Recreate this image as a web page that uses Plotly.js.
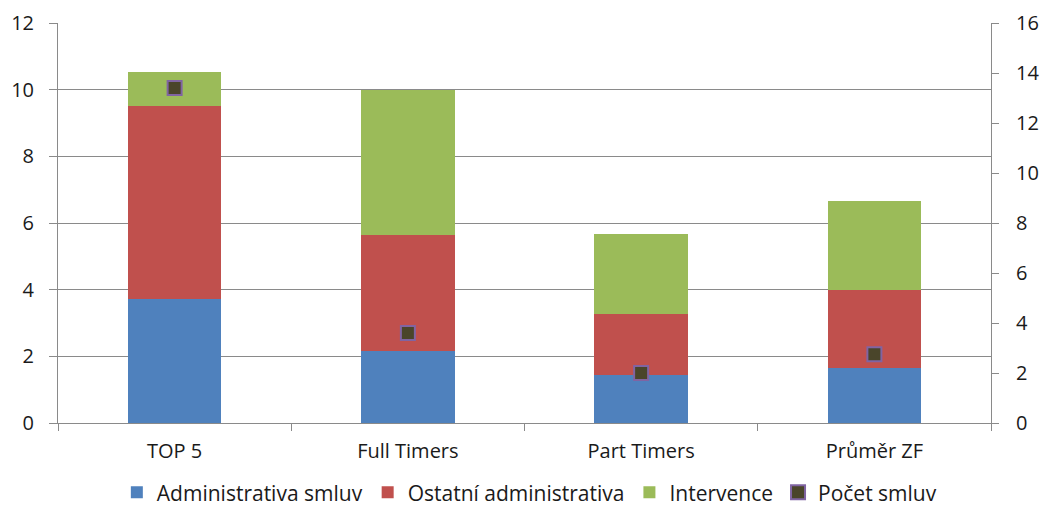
<!DOCTYPE html>
<html>
<head>
<meta charset="utf-8">
<script src="https://cdn.plot.ly/plotly-3.0.1.min.js"></script>
<style>
  html, body { margin: 0; padding: 0; background: #fff; }
  #chart { width: 1042px; height: 509px; }
</style>
</head>
<body>
<div id="chart"></div>
<script>
// Categories and series values
const categories = ["TOP 5", "Full Timers", "Part Timers", "Průměr ZF"];
const adminSmluv = [3.73, 2.16, 1.43, 1.64];
const ostatniAdmin = [5.78, 3.49, 1.85, 2.35];
const intervence = [1.01, 4.35, 2.40, 2.68];
const pocetSmluv = [13.4, 3.6, 2.0, 2.75];

const leftTicks = [0, 2, 4, 6, 8, 10, 12];
const rightTicks = [0, 2, 4, 6, 8, 10, 12, 14, 16];

const FONT = "'Open Sans', 'Noto Sans', sans-serif";
const GRID = "#8a8a8a";

const barTrace = (name, values, color) => ({
  type: "bar",
  name: name,
  x: categories,
  y: values,
  marker: { color: color, line: { width: 0 } },
  hoverinfo: "skip"
});

const data = [
  barTrace("Administrativa smluv", adminSmluv, "#4F81BD"),
  barTrace("Ostatní administrativa", ostatniAdmin, "#C0504D"),
  barTrace("Intervence", intervence, "#9BBB59"),
  {
    type: "scatter",
    mode: "markers",
    name: "Počet smluv",
    x: categories,
    y: pocetSmluv,
    yaxis: "y2",
    marker: {
      symbol: "square",
      size: 14,
      color: "#4A452A",
      line: { color: "#8064A2", width: 2 }
    },
    hoverinfo: "skip"
  }
];

const layout = {
  width: 1042,
  height: 509,
  margin: { l: 58, r: 51, t: 23, b: 86 },
  paper_bgcolor: "#ffffff",
  plot_bgcolor: "#ffffff",
  barmode: "stack",
  bargap: 0.6,
  font: { family: FONT, size: 20, color: "#1a1a1a" },
  showlegend: true,
  legend: {
    orientation: "h",
    xref: "container",
    yref: "container",
    x: 0.508,
    xanchor: "center",
    y: 0.032,
    yanchor: "middle",
    font: { family: FONT, size: 21, color: "#1a1a1a" },
    traceorder: "normal",
    itemwidth: 30,
    bgcolor: "rgba(0,0,0,0)"
  },
  xaxis: {
    type: "category",
    showline: true,
    linecolor: GRID,
    linewidth: 1,
    ticks: "outside",
    tickson: "boundaries",
    ticklen: 7,
    tickcolor: GRID,
    showgrid: false,
    zeroline: false,
    ticklabelstandoff: 10,
    tickfont: { family: FONT, size: 20, color: "#1a1a1a" }
  },
  yaxis: {
    range: [0, 12],
    tickvals: leftTicks,
    ticktext: leftTicks.map(String),
    showline: true,
    linecolor: GRID,
    linewidth: 1,
    ticks: "outside",
    ticklen: 8,
    tickcolor: GRID,
    showgrid: true,
    gridcolor: GRID,
    gridwidth: 1,
    zeroline: false,
    ticklabelstandoff: 11,
    tickfont: { family: FONT, size: 20, color: "#1a1a1a" }
  },
  yaxis2: {
    range: [0, 16],
    tickvals: rightTicks,
    ticktext: rightTicks.map(String),
    overlaying: "y",
    side: "right",
    showline: true,
    linecolor: GRID,
    linewidth: 1,
    ticks: "outside",
    ticklen: 7,
    tickcolor: GRID,
    showgrid: false,
    zeroline: false,
    ticklabelstandoff: 13,
    tickfont: { family: FONT, size: 20, color: "#1a1a1a" }
  }
};

Plotly.newPlot("chart", data, layout, { staticPlot: true, displayModeBar: false });
</script>
</body>
</html>
